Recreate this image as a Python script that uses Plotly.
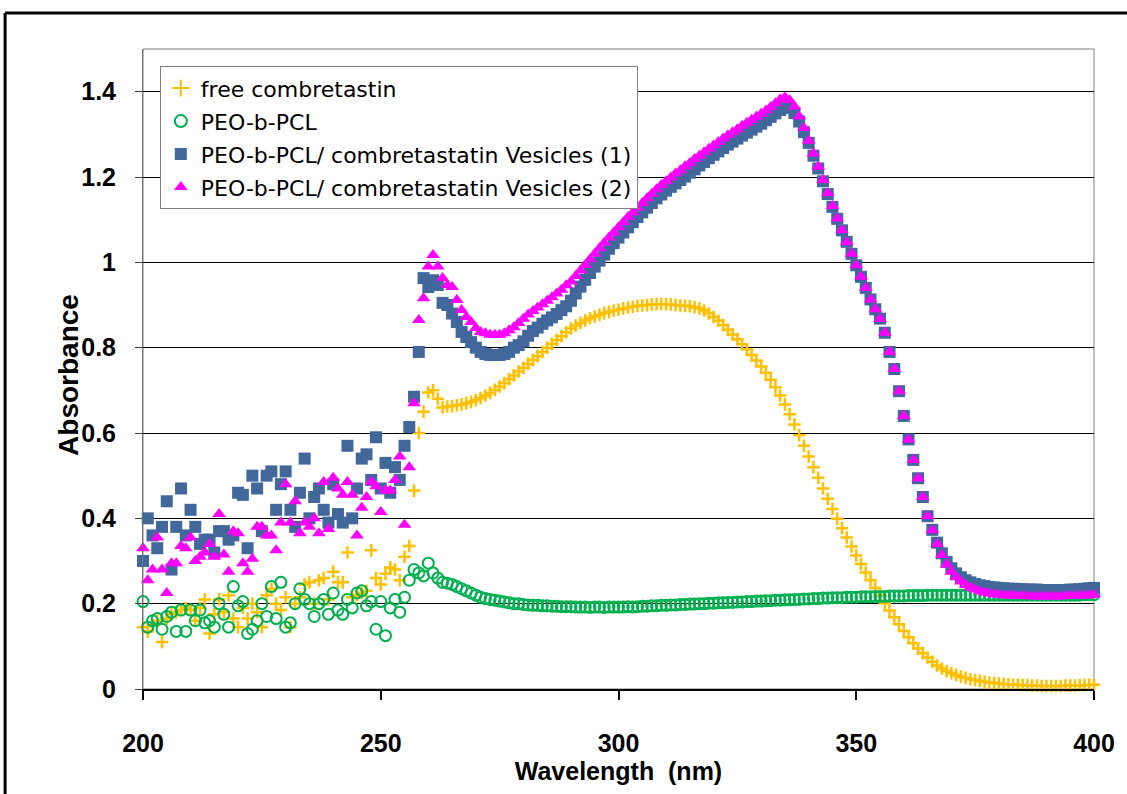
import plotly.graph_objects as go

# Wavelength grid (nm), one reading per nm
wavelength = list(range(200, 401))

free_combretastatin = [
    0.145, 0.135, 0.15, 0.16, 0.11, 0.165, 0.175, 0.18, 0.185, 0.19,
    0.185, 0.16, 0.19, 0.21, 0.13, 0.175, 0.21, 0.18, 0.22, 0.165,
    0.145, 0.19, 0.165, 0.20, 0.18, 0.145, 0.22, 0.235, 0.20, 0.185,
    0.215, 0.145, 0.20, 0.215, 0.245, 0.25, 0.20, 0.255, 0.26, 0.21,
    0.275, 0.25, 0.25, 0.32, 0.215, 0.22, 0.225, 0.23, 0.325, 0.26,
    0.245, 0.27, 0.285, 0.28, 0.255, 0.31, 0.335, 0.465, 0.60, 0.65,
    0.695, 0.70, 0.68, 0.66, 0.662, 0.663, 0.665, 0.667, 0.67, 0.673,
    0.677, 0.682, 0.688, 0.694, 0.701, 0.709, 0.717, 0.726, 0.735, 0.744,
    0.753, 0.762, 0.771, 0.78, 0.79, 0.80, 0.809, 0.818, 0.827, 0.836,
    0.845, 0.852, 0.858, 0.864, 0.869, 0.873, 0.877, 0.881, 0.884, 0.887,
    0.889, 0.892, 0.894, 0.896, 0.898, 0.899, 0.900, 0.901, 0.902, 0.902,
    0.902, 0.901, 0.900, 0.899, 0.898, 0.897, 0.895, 0.892, 0.887, 0.880,
    0.872, 0.863, 0.853, 0.842, 0.831, 0.82, 0.808, 0.796, 0.783, 0.77,
    0.756, 0.741, 0.725, 0.707, 0.688, 0.667, 0.644, 0.62, 0.595, 0.57,
    0.545, 0.52, 0.495, 0.47, 0.446, 0.422, 0.399, 0.377, 0.355, 0.334,
    0.313, 0.293, 0.273, 0.255, 0.237, 0.219, 0.201, 0.184, 0.168, 0.152,
    0.136, 0.121, 0.107, 0.095, 0.084, 0.074, 0.064, 0.055, 0.048, 0.042,
    0.037, 0.033, 0.029, 0.026, 0.023, 0.021, 0.019, 0.017, 0.015, 0.014,
    0.013, 0.012, 0.011, 0.010, 0.010, 0.009, 0.009, 0.008, 0.008, 0.007,
    0.007, 0.007, 0.007, 0.007, 0.008, 0.008, 0.008, 0.009, 0.009, 0.010,
    0.010,
]

peo_b_pcl = [
    0.205, 0.145, 0.16, 0.165, 0.14, 0.17, 0.18, 0.135, 0.185, 0.135,
    0.185, 0.16, 0.185, 0.155, 0.16, 0.145, 0.20, 0.175, 0.145, 0.24,
    0.195, 0.205, 0.13, 0.14, 0.16, 0.20, 0.17, 0.24, 0.165, 0.25,
    0.145, 0.155, 0.20, 0.235, 0.21, 0.20, 0.17, 0.20, 0.21, 0.175,
    0.225, 0.185, 0.175, 0.21, 0.19, 0.225, 0.23, 0.195, 0.205, 0.14,
    0.205, 0.125, 0.19, 0.21, 0.18, 0.215, 0.255, 0.28, 0.272, 0.265,
    0.295, 0.272, 0.26, 0.25, 0.248, 0.245, 0.24, 0.235, 0.23, 0.225,
    0.22, 0.215, 0.212, 0.21, 0.208, 0.206, 0.204, 0.202, 0.2, 0.2,
    0.198, 0.197, 0.196, 0.196, 0.195, 0.195, 0.194, 0.194, 0.193, 0.193,
    0.193, 0.192, 0.192, 0.192, 0.191, 0.192, 0.192, 0.191, 0.192, 0.192,
    0.192, 0.192, 0.193, 0.192, 0.193, 0.194, 0.194, 0.195, 0.195, 0.196,
    0.196, 0.197, 0.197, 0.198, 0.198, 0.199, 0.199, 0.2, 0.2, 0.201,
    0.201, 0.202, 0.202, 0.203, 0.203, 0.204, 0.204, 0.205, 0.205, 0.206,
    0.206, 0.207, 0.207, 0.208, 0.208, 0.209, 0.209, 0.21, 0.21, 0.211,
    0.211, 0.212, 0.212, 0.213, 0.213, 0.214, 0.214, 0.214, 0.215, 0.215,
    0.215, 0.216, 0.216, 0.216, 0.217, 0.217, 0.217, 0.218, 0.218, 0.218,
    0.218, 0.219, 0.219, 0.219, 0.219, 0.22, 0.22, 0.22, 0.22, 0.22,
    0.22, 0.22, 0.22, 0.22, 0.22, 0.22, 0.22, 0.22, 0.22, 0.22,
    0.22, 0.22, 0.22, 0.22, 0.22, 0.22, 0.22, 0.22, 0.22, 0.22,
    0.22, 0.22, 0.22, 0.22, 0.22, 0.22, 0.22, 0.22, 0.221, 0.221,
    0.221,
]

vesicles_1 = [
    0.30, 0.40, 0.36, 0.33, 0.38, 0.44, 0.28, 0.38, 0.47, 0.36,
    0.42, 0.38, 0.34, 0.35, 0.35, 0.32, 0.37, 0.37, 0.35, 0.36,
    0.46, 0.455, 0.33, 0.50, 0.47, 0.37, 0.50, 0.51, 0.42, 0.48,
    0.51, 0.42, 0.38, 0.46, 0.54, 0.40, 0.45, 0.47, 0.42, 0.39,
    0.48, 0.41, 0.39, 0.57, 0.40, 0.47, 0.54, 0.55, 0.49, 0.59,
    0.47, 0.53, 0.46, 0.52, 0.49, 0.57, 0.614, 0.685, 0.79, 0.963,
    0.942, 0.958, 0.947, 0.905, 0.90, 0.88, 0.86, 0.837, 0.825, 0.813,
    0.80, 0.79, 0.785, 0.783, 0.783, 0.783, 0.785, 0.79, 0.80, 0.806,
    0.815, 0.828, 0.839, 0.847, 0.856, 0.864, 0.871, 0.879, 0.888, 0.897,
    0.91, 0.927, 0.943, 0.959, 0.975, 0.99, 1.004, 1.018, 1.032, 1.045,
    1.058, 1.07, 1.082, 1.094, 1.106, 1.117, 1.128, 1.139, 1.15, 1.159,
    1.168, 1.177, 1.185, 1.193, 1.201, 1.21, 1.218, 1.227, 1.235, 1.244,
    1.252, 1.26, 1.268, 1.276, 1.283, 1.29, 1.297, 1.304, 1.311, 1.318,
    1.325, 1.333, 1.341, 1.349, 1.357, 1.365, 1.362, 1.35, 1.33, 1.305,
    1.28, 1.25, 1.22, 1.19, 1.16, 1.13, 1.102, 1.075, 1.048, 1.02,
    0.993, 0.966, 0.94, 0.913, 0.89, 0.868, 0.835, 0.79, 0.75, 0.698,
    0.64, 0.585, 0.537, 0.494, 0.45, 0.405, 0.373, 0.343, 0.318, 0.298,
    0.283, 0.271, 0.262, 0.255, 0.25, 0.246, 0.243, 0.241, 0.239, 0.238,
    0.237, 0.236, 0.235, 0.235, 0.234, 0.234, 0.233, 0.233, 0.233, 0.232,
    0.232, 0.232, 0.232, 0.232, 0.232, 0.233, 0.233, 0.234, 0.235, 0.236,
    0.237,
]

vesicles_2 = [
    0.33, 0.255, 0.28, 0.355, 0.28, 0.225, 0.295, 0.295, 0.335, 0.33,
    0.355, 0.30, 0.31, 0.32, 0.34, 0.31, 0.41, 0.315, 0.275, 0.37,
    0.365, 0.295, 0.275, 0.305, 0.38, 0.38, 0.36, 0.36, 0.325, 0.39,
    0.48, 0.39, 0.44, 0.365, 0.39, 0.38, 0.40, 0.365, 0.485, 0.375,
    0.495, 0.47, 0.455, 0.485, 0.455, 0.36, 0.425, 0.45, 0.485, 0.475,
    0.415, 0.465, 0.465, 0.49, 0.545, 0.385, 0.52, 0.67, 0.865, 0.916,
    0.99, 1.017, 0.99, 0.963, 0.947, 0.942, 0.912, 0.888, 0.872, 0.86,
    0.846, 0.837, 0.834, 0.83, 0.83, 0.83, 0.834, 0.841, 0.848, 0.858,
    0.868, 0.878, 0.886, 0.894, 0.902, 0.91, 0.918, 0.927, 0.936, 0.946,
    0.955, 0.968, 0.981, 0.994, 1.007, 1.02, 1.033, 1.046, 1.058, 1.07,
    1.082, 1.094, 1.106, 1.117, 1.128, 1.139, 1.15, 1.161, 1.171, 1.181,
    1.19, 1.199, 1.208, 1.216, 1.225, 1.233, 1.242, 1.25, 1.258, 1.266,
    1.274, 1.282, 1.29, 1.298, 1.305, 1.312, 1.32, 1.327, 1.334, 1.341,
    1.348, 1.356, 1.364, 1.373, 1.382, 1.387, 1.38, 1.365, 1.342, 1.315,
    1.285, 1.255, 1.224, 1.193, 1.162, 1.132, 1.103, 1.075, 1.047, 1.02,
    0.993, 0.966, 0.94, 0.913, 0.89, 0.867, 0.835, 0.79, 0.75, 0.698,
    0.64, 0.585, 0.537, 0.494, 0.45, 0.405, 0.372, 0.34, 0.314, 0.292,
    0.275, 0.262, 0.252, 0.244, 0.238, 0.233, 0.229, 0.226, 0.224, 0.222,
    0.221, 0.22, 0.219, 0.219, 0.218, 0.218, 0.218, 0.217, 0.217, 0.217,
    0.217, 0.217, 0.217, 0.217, 0.218, 0.218, 0.218, 0.219, 0.219, 0.22,
    0.221,
]

series_names = [
    "free combretastin",
    "PEO-b-PCL",
    "PEO-b-PCL/ combretastatin Vesicles (1)",
    "PEO-b-PCL/ combretastatin Vesicles (2)",
]

x_tick_values = [200, 250, 300, 350, 400]
y_tick_values = [0, 0.2, 0.4, 0.6, 0.8, 1.0, 1.2, 1.4]
y_tick_labels = ["0", "0.2", "0.4", "0.6", "0.8", "1", "1.2", "1.4"]

FONT = "Liberation Sans, Arial, sans-serif"
LEGEND_FONT = "DejaVu Sans, Liberation Sans, Arial, sans-serif"

fig = go.Figure()

fig.add_trace(go.Scatter(
    x=wavelength, y=free_combretastatin, name=series_names[0], mode="markers",
    legendgroup="g1", cliponaxis=False,
    marker=dict(symbol="cross-thin", size=9, color="#FFC000",
                line=dict(color="#FFC000", width=2.5)),
))
fig.add_trace(go.Scatter(
    x=wavelength, y=peo_b_pcl, name=series_names[1], mode="markers",
    legendgroup="g2", cliponaxis=False,
    marker=dict(symbol="circle-open", size=11, color="#00B050",
                line=dict(color="#00B050", width=2)),
))
fig.add_trace(go.Scatter(
    x=wavelength, y=vesicles_1, name=series_names[2], mode="markers",
    legendgroup="g3", cliponaxis=False,
    marker=dict(symbol="square", size=12, color="#41679B",
                line=dict(width=0)),
))
fig.add_trace(go.Scatter(
    x=wavelength, y=vesicles_2, name=series_names[3], mode="markers",
    legendgroup="g4", cliponaxis=False,
    marker=dict(symbol="triangle-up", size=12, color="#FF00FF",
                line=dict(width=0)),
))

# Outer frame (black) and plot-area border (gray)
fig.add_shape(type="line", xref="paper", yref="paper",
              x0=-0.145, x1=1.05, y0=1.0563, y1=1.0563,
              line=dict(color="black", width=3))
fig.add_shape(type="line", xref="paper", yref="paper",
              x0=-0.145, x1=-0.145, y0=1.0563, y1=-0.17,
              line=dict(color="black", width=3))
fig.add_shape(type="rect", xref="paper", yref="paper",
              x0=0, x1=1, y0=0, y1=1, layer="below",
              line=dict(color="#808080", width=1))

# Y-axis title placed as rotated text
fig.add_annotation(
    text="Absorbance", xref="paper", yref="paper",
    x=-0.0783, y=0.49, xanchor="center", yanchor="middle",
    textangle=-90, showarrow=False,
    font=dict(family=FONT, size=28, color="black", weight="bold"),
)

fig.update_layout(
    width=1127, height=794,
    margin=dict(l=143, r=26, t=49, b=105),
    paper_bgcolor="white", plot_bgcolor="white",
    font=dict(family=FONT, color="black"),
    showlegend=True,
    legend=dict(
        x=0.0177, y=0.973, xanchor="left", yanchor="top",
        bgcolor="white", bordercolor="#808080", borderwidth=1,
        font=dict(family=LEGEND_FONT, size=22, color="black"),
        tracegroupgap=1.4, itemsizing="constant",
    ),
)

fig.update_xaxes(
    range=[200, 400], tickvals=x_tick_values,
    showgrid=False, zeroline=False,
    showline=True, linecolor="black", linewidth=2,
    ticks="outside", ticklen=9, tickwidth=2, tickcolor="black",
    tickfont=dict(family=FONT, size=25, color="black", weight="bold"),
    ticklabelstandoff=22,
    title=dict(text="Wavelength  (nm)", standoff=6,
               font=dict(family=FONT, size=25, color="black", weight="bold")),
)
fig.update_yaxes(
    range=[0, 1.5], tickvals=y_tick_values, ticktext=y_tick_labels,
    showgrid=True, gridcolor="black", gridwidth=1,
    zeroline=False,
    showline=True, linecolor="#707070", linewidth=1,
    ticks="outside", ticklen=7, tickwidth=1, tickcolor="#404040",
    tickfont=dict(family=FONT, size=25, color="black", weight="bold"),
    ticklabelstandoff=14,
)

fig.write_html("out.html")
